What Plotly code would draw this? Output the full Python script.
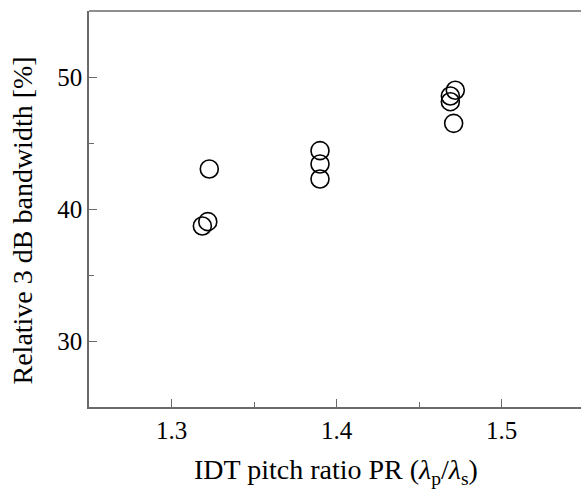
import plotly.graph_objects as go

pitch_ratio = [1.3229, 1.3220, 1.3187, 1.390, 1.390, 1.390, 1.472, 1.469, 1.469, 1.471]
bandwidth = [43.03, 39.04, 38.71, 44.42, 43.41, 42.27, 49.0, 48.56, 48.13, 46.49]

x_ticks = [1.3, 1.4, 1.5]
y_ticks = [30, 40, 50]

FONT = "Liberation Serif"
AX = "#6a6a6a"

fig = go.Figure()
fig.add_trace(go.Scatter(
    x=pitch_ratio, y=bandwidth, mode="markers",
    marker=dict(symbol="circle", size=18, color="rgba(255,255,255,0)",
                line=dict(color="black", width=1.6)),
    showlegend=False, hoverinfo="x+y",
))

fig.update_layout(
    width=584, height=489,
    margin=dict(l=89, r=0, t=11, b=82),
    paper_bgcolor="white", plot_bgcolor="white",
    font=dict(family=FONT, size=25, color="black"),
    xaxis=dict(range=[1.25, 1.55], tickvals=x_ticks, ticktext=[f"{v:.1f}" for v in x_ticks],
               ticks="inside", ticklen=8, tickwidth=1.3, tickcolor=AX,
               minor=dict(tickvals=[1.35, 1.45], ticks="inside", ticklen=5, tickwidth=1.3, tickcolor=AX),
               showline=True, linecolor=AX, linewidth=1.5, mirror=False,
               showgrid=False, zeroline=False,
               tickfont=dict(family=FONT, size=25, color="black")),
    yaxis=dict(range=[25, 55], tickvals=y_ticks, ticktext=[str(v) for v in y_ticks],
               ticks="inside", ticklen=8, tickwidth=1.3, tickcolor=AX,
               minor=dict(tickvals=[35, 45], ticks="inside", ticklen=5, tickwidth=1.3, tickcolor=AX),
               showline=True, linecolor=AX, linewidth=1.5, mirror=False,
               showgrid=False, zeroline=False,
               tickfont=dict(family=FONT, size=25, color="black")),
    shapes=[dict(type="line", xref="paper", yref="paper", x0=0, x1=1, y0=1, y1=1,
                 line=dict(color=AX, width=1.5), layer="above")],
    annotations=[
        dict(text="IDT pitch ratio PR (<i>λ</i><sub>p</sub>/<i>λ</i><sub>s</sub>)",
             xref="paper", yref="paper", x=0.5, y=0, yshift=-45, xshift=-1,
             xanchor="center", yanchor="top", showarrow=False,
             font=dict(family=FONT, size=28, color="black")),
        dict(text="Relative 3 dB bandwidth [%]",
             xref="paper", yref="paper", x=0, y=0.5, xshift=-50, yshift=-12,
             xanchor="right", yanchor="middle", textangle=-90, showarrow=False,
             font=dict(family=FONT, size=28, color="black")),
    ],
)

fig.write_html("out.html", config={"displayModeBar": False},
               post_script="document.documentElement.style.overflow='hidden';"
                           "document.body.style.margin='0';document.body.style.overflow='hidden';")
